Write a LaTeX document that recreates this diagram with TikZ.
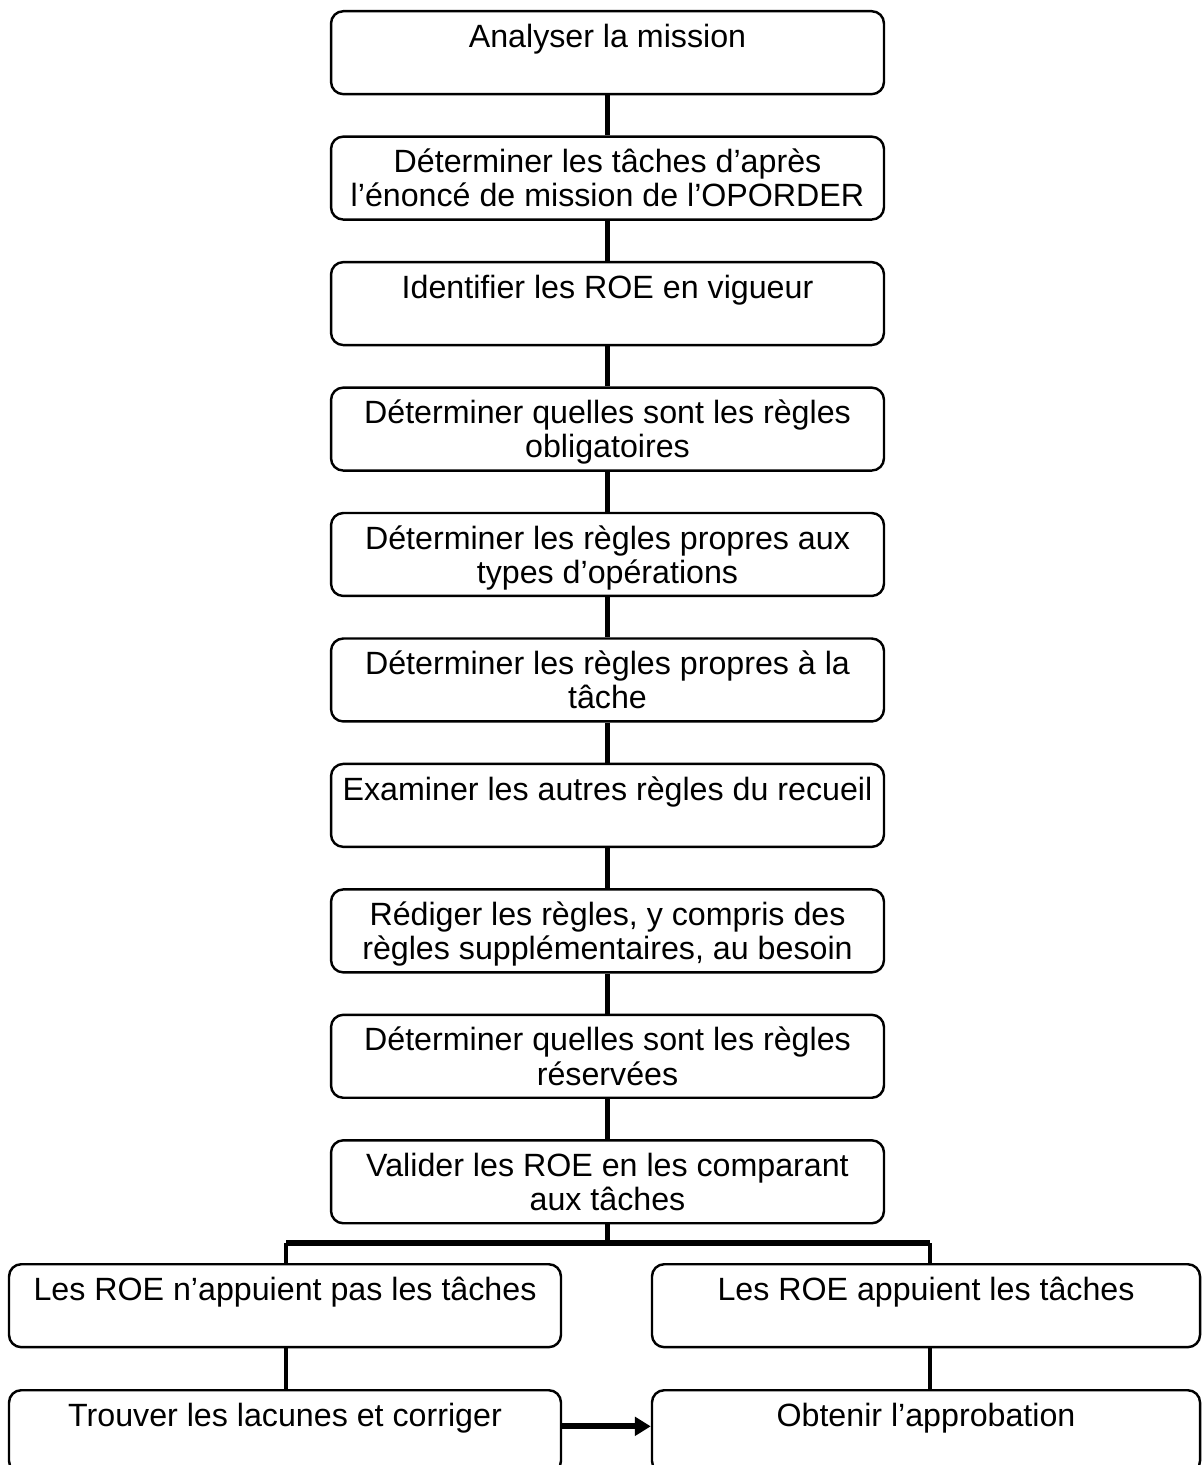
\documentclass[tikz,border=0pt]{standalone}
\usepackage{fontspec}
\setmainfont{Liberation Sans}
\usetikzlibrary{arrows.meta}
\newcommand\bxtext[2]{\begin{minipage}[t][34pt][t]{#1}\centering\fontsize{13.2}{14}\selectfont\vspace*{5pt}\strut #2\strut\end{minipage}}
\tikzset{
  box/.style={draw, line width=1pt, rounded corners=5pt, inner sep=0pt, anchor=north},
  link/.style={line width=2pt},
  sublink/.style={line width=1.8pt},
  bar/.style={line width=2.5pt},
  flow/.style={line width=2.4pt, -{Triangle[length=6.5pt,width=7.5pt]}}
}
\begin{document}
\begin{tikzpicture}[x=0.41pt, y=-0.41pt]
\fill[white] (0,0) rectangle (1202,1465);
\clip (0,0) rectangle (1202,1465);
\node[box] (m1) at (607.5,10) {\bxtext{226.7pt}{Analyser la mission}};
\node[box] (m2) at (607.5,135.4) {\bxtext{226.7pt}{Déterminer les tâches d’après\\l’énoncé de mission de l’OPORDER}};
\node[box] (m3) at (607.5,260.9) {\bxtext{226.7pt}{Identifier les ROE en vigueur}};
\node[box] (m4) at (607.5,386.4) {\bxtext{226.7pt}{Déterminer quelles sont les règles\\obligatoires}};
\node[box] (m5) at (607.5,511.8) {\bxtext{226.7pt}{Déterminer les règles propres aux\\types d’opérations}};
\node[box] (m6) at (607.5,637.3) {\bxtext{226.7pt}{Déterminer les règles propres à la\\tâche}};
\node[box] (m7) at (607.5,762.7) {\bxtext{226.7pt}{Examiner les autres règles du recueil}};
\node[box] (m8) at (607.5,888.2) {\bxtext{226.7pt}{Rédiger les règles, y compris des\\règles supplémentaires, au besoin}};
\node[box] (m9) at (607.5,1013.6) {\bxtext{226.7pt}{Déterminer quelles sont les règles\\réservées}};
\node[box] (m10) at (607.5,1139.1) {\bxtext{226.7pt}{Valider les ROE en les comparant\\aux tâches}};
\node[box] (l1) at (285,1263) {\bxtext{226.3pt}{Les ROE n’appuient pas les tâches}};
\node[box] (r1) at (926,1263) {\bxtext{224.7pt}{Les ROE appuient les tâches}};
\node[box] (l2) at (285,1389) {\bxtext{226.3pt}{Trouver les lacunes et corriger}};
\node[box] (r2) at (926,1389) {\bxtext{224.7pt}{Obtenir l’approbation}};
\foreach \a/\b in {m1/m2,m2/m3,m3/m4,m4/m5,m5/m6,m6/m7,m7/m8,m8/m9,m9/m10}
  \draw[link] (\a) -- (\b);
\coordinate (jc) at (607.5,1243);
\coordinate (jl) at (286,1243);
\coordinate (jr) at (930,1243);
\draw[link] (m10.south) -- (jc);
\draw[bar] (jl) -- (jr);
\draw[sublink] (jl) -- (jl |- l1.north);
\draw[sublink] (jr) -- (jr |- r1.north);
\draw[sublink] (l1.south -| jl) -- (l2.north -| jl);
\draw[sublink] (r1.south -| jr) -- (r2.north -| jr);
\draw[flow] ([yshift=2.2pt]l2.east) -- ([yshift=2.2pt]r2.west);
\end{tikzpicture}
\end{document}
